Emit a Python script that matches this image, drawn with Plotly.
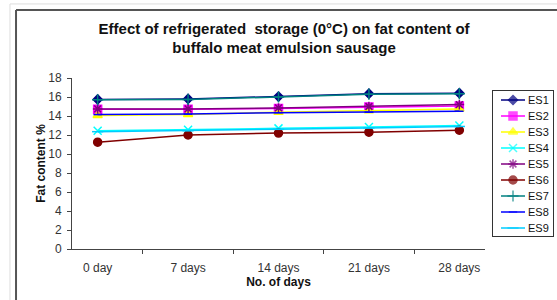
import plotly.graph_objects as go

days = ["0 day", "7 days", "14 days", "21 days", "28 days"]
series_names = ["ES1", "ES2", "ES3", "ES4", "ES5", "ES6", "ES7", "ES8", "ES9"]
es1 = [15.75, 15.8, 16.05, 16.35, 16.4]
es2 = [14.7, 14.7, 14.8, 14.95, 15.05]
es3 = [14.05, 14.15, 14.4, 14.55, 14.75]
es4 = [12.45, 12.55, 12.7, 12.85, 13.0]
es5 = [14.75, 14.75, 14.85, 15.0, 15.2]
es6 = [11.25, 12.0, 12.2, 12.3, 12.5]
es7 = [15.7, 15.75, 16.0, 16.3, 16.35]
es8 = [14.15, 14.2, 14.35, 14.4, 14.5]
es9 = [12.35, 12.45, 12.6, 12.75, 12.9]
values = [es1, es2, es3, es4, es5, es6, es7, es8, es9]

colors = ["#000080", "#FF00FF", "#FFFF00", "#00FFFF", "#800080",
          "#800000", "#008080", "#0000FF", "#00CCFF"]
symbols = ["diamond", "square", "triangle-up", "x-thin-open", "asterisk-open",
           "circle", "cross-thin-open", "line-ew-open", "line-ew-open"]
sizes = [7, 8, 8, 8, 8, 8, 8, 6, 8]

fig = go.Figure()
for name, vals, c, s, sz in zip(series_names, values, colors, symbols, sizes):
    fig.add_trace(go.Scatter(
        x=days, y=vals, name=name, mode="lines+markers",
        line=dict(color=c, width=1.5),
        marker=dict(symbol=s, size=sz, color=c, line=dict(color=c, width=1.5)),
        showlegend=False,
    ))

# custom compact legend drawn in its own small axes
for i, (name, c, s, sz) in enumerate(zip(series_names, colors, symbols, sizes), start=1):
    fig.add_trace(go.Scatter(
        x=[8, 20, 32], y=[i, i, i], mode="lines+markers",
        line=dict(color=c, width=1.5),
        marker=dict(symbol=s, size=[0, sz, 0], color=c, line=dict(color=c, width=1.5)),
        xaxis="x2", yaxis="y2", showlegend=False, hoverinfo="skip",
    ))
    fig.add_annotation(x=33, y=i, xref="x2", yref="y2", text=name, showarrow=False,
                       xanchor="left", yanchor="middle",
                       font=dict(size=11, color="#111"))

fig.update_layout(
    width=557, height=300,
    paper_bgcolor="white", plot_bgcolor="white",
    margin=dict(l=72, r=2, t=78, b=51),
    font=dict(family="Arial, Liberation Sans, sans-serif", size=12, color="#222"),
    title=dict(
        text="<b>Effect of refrigerated  storage (0°C) on fat content of<br>buffalo meat emulsion sausage</b>",
        x=0.51, xanchor="center", y=0.887, yanchor="middle",
        font=dict(size=15, color="#111"),
    ),
    showlegend=False,
    xaxis=dict(
        domain=[0, 413 / 483], automargin=False,
        showline=True, linecolor="#444", linewidth=1,
        ticks="outside", ticklen=4, tickcolor="#444", tickson="boundaries",
        ticklabelstandoff=8,
        showgrid=False, tickfont=dict(size=12, color="#333"),
        title=dict(text="<b>No. of days</b>", standoff=0, font=dict(size=12, color="#111")),
    ),
    yaxis=dict(
        range=[0, 18], dtick=2, automargin=False,
        showline=True, linecolor="#444", linewidth=1,
        ticks="outside", ticklen=4, tickcolor="#444", ticklabelstandoff=3,
        showgrid=False, zeroline=False, tickfont=dict(size=12, color="#333"),
        title=dict(text="<b>Fat content %</b>", standoff=0, font=dict(size=12, color="#111")),
    ),
    xaxis2=dict(
        domain=[(493 - 72) / 483, (553 - 72) / 483], range=[0, 60], anchor="y2",
        showline=True, mirror=True, linecolor="#333", linewidth=1,
        showticklabels=False, ticks="", showgrid=False, zeroline=False, fixedrange=True,
    ),
    yaxis2=dict(
        domain=[(249 - 236) / 171, (249 - 91) / 171], range=[9.5, 0.4375], anchor="x2",
        showline=True, mirror=True, linecolor="#333", linewidth=1,
        showticklabels=False, ticks="", showgrid=False, zeroline=False, fixedrange=True,
    ),
)

# chart frame lines (left and top)
fig.add_shape(type="line", xref="paper", yref="paper", x0=-0.1284, x1=-0.1284, y0=-1, y1=1.433,
              line=dict(color="#DDDDDD", width=1))
fig.add_shape(type="line", xref="paper", yref="paper", x0=-0.1284, x1=1.1, y0=1.433, y1=1.433,
              line=dict(color="#DDDDDD", width=1))
fig.add_shape(type="line", xref="paper", yref="paper", x0=-0.1159, x1=-0.1159, y0=-1, y1=1.398,
              line=dict(color="#555555", width=2))
fig.add_shape(type="line", xref="paper", yref="paper", x0=-0.1159, x1=1.1, y0=1.398, y1=1.398,
              line=dict(color="#555555", width=2))

fig.write_html("out.html", config={"displayModeBar": False},
               post_script="document.body.style.margin='0';document.body.style.overflow='hidden';")
